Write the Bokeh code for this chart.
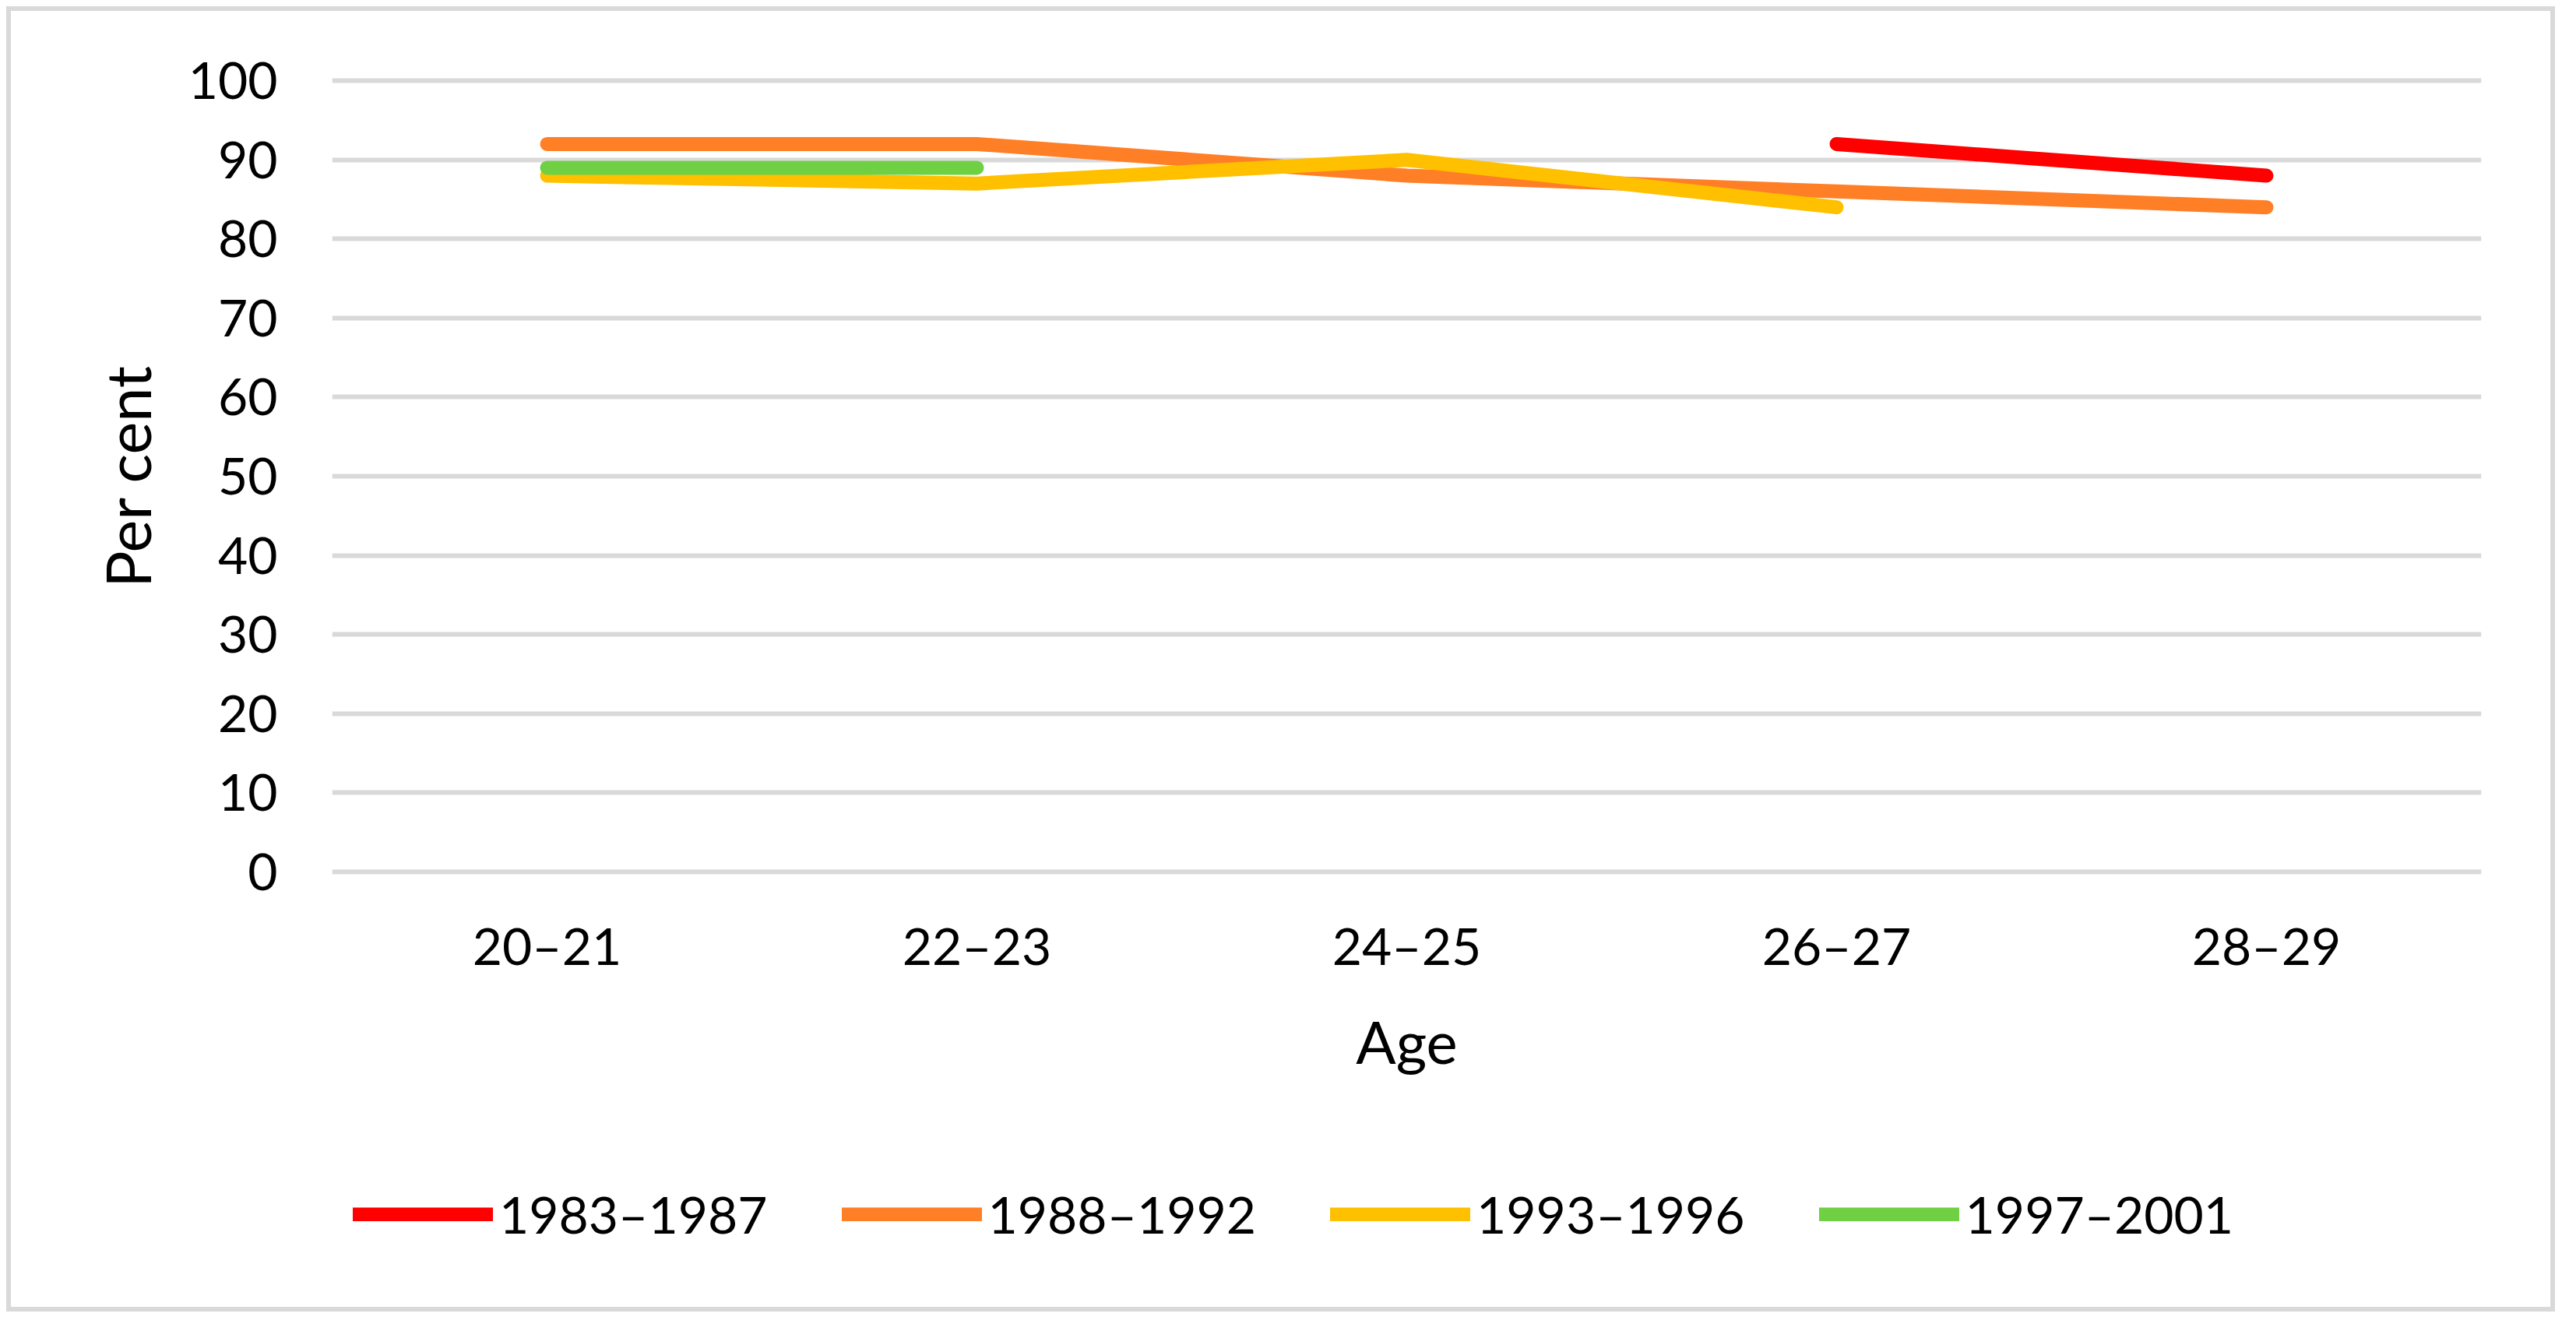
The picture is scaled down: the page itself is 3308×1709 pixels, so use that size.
from bokeh.plotting import figure
from bokeh.models import FactorRange, Range1d, FixedTicker, Legend, LegendItem
from bokeh.layouts import column
from bokeh.embed import file_html
from bokeh.resources import INLINE

ages = ["20–21", "22–23", "24–25", "26–27", "28–29"]
nan = float("nan")
cohort_labels = ["1983–1987", "1988–1992", "1993–1996", "1997–2001"]
c1983_1987 = [nan, nan, nan, 92, 88]
c1988_1992 = [92, 92, 88, 86, 84]
c1993_1996 = [88, 87, 90, 84, nan]
c1997_2001 = [89, 89, nan, nan, nan]
y_ticks = [0, 10, 20, 30, 40, 50, 60, 70, 80, 90, 100]

series = [c1983_1987, c1988_1992, c1993_1996, c1997_2001]
colors = ["#FF0000", "#FF7F27", "#FFC000", "#70D044"]

FONT = "Lato"
W = 3289

p = figure(
    width=W, height=1472,
    x_range=FactorRange(*ages, range_padding=0),
    y_range=Range1d(-1, 101),
    output_backend="svg", toolbar_location=None,
    min_border_left=426, min_border_right=103, min_border_top=93, min_border_bottom=343,
)
p.outline_line_color = None
p.background_fill_color = "white"
p.border_fill_alpha = 0

p.xgrid.grid_line_color = None
p.ygrid.grid_line_color = "#D9D9D9"
p.ygrid.grid_line_width = 6
p.yaxis.ticker = FixedTicker(ticks=y_ticks)

for ax in (p.xaxis[0], p.yaxis[0]):
    ax.axis_line_color = None
    ax.major_tick_line_color = None
    ax.minor_tick_line_color = None
    ax.major_tick_out = 0
    ax.major_tick_in = 0
    ax.major_label_text_font = FONT
    ax.major_label_text_font_size = "66px"
    ax.major_label_text_color = "black"
    ax.axis_label_text_font = FONT
    ax.axis_label_text_font_size = "76px"
    ax.axis_label_text_font_style = "normal"
    ax.axis_label_text_color = "black"

p.xaxis.axis_label = "Age"
p.xaxis.major_label_standoff = 44
p.xaxis.axis_label_standoff = 35
p.yaxis.axis_label = "Per cent"
p.yaxis.axis_label_text_font_size = "79px"
p.yaxis.major_label_standoff = 70
p.yaxis.axis_label_standoff = 28

for vals, col in zip(series, colors):
    p.line(x=ages, y=vals, line_color=col, line_width=18,
           line_cap="round", line_join="round")

# legend strip below the chart (its series sit outside its visible range,
# so only the legend itself shows)
leg = figure(
    width=W, height=220,
    x_range=FactorRange(*ages, range_padding=0), y_range=Range1d(1000, 1001),
    x_axis_type=None, y_axis_type=None,
    output_backend="svg", toolbar_location=None, min_border=0,
)
leg.outline_line_color = None
leg.background_fill_alpha = 0
leg.border_fill_alpha = 0
leg.grid.visible = False
leg_renderers = [
    leg.line(x=ages, y=vals, line_color=col, line_width=18, line_cap="round")
    for vals, col in zip(series, colors)
]
legend = Legend(
    items=[LegendItem(label=l, renderers=[r]) for l, r in zip(cohort_labels, leg_renderers)],
    orientation="horizontal",
    location=(27, 94),
    glyph_width=180, glyph_height=18,
    label_standoff=8, spacing=95, padding=0, margin=0,
    border_line_color=None, background_fill_alpha=0,
    label_text_font=FONT, label_text_font_size="66px", label_text_color="black",
)
leg.add_layout(legend, "center")

page = column(p, leg, spacing=0)
page.styles = {
    "background-color": "white",
    "box-shadow": "inset 0 0 0 8px white, inset 0 0 0 14px #D9D9D9",
}

open("out.html", "w").write(file_html(page, INLINE))
